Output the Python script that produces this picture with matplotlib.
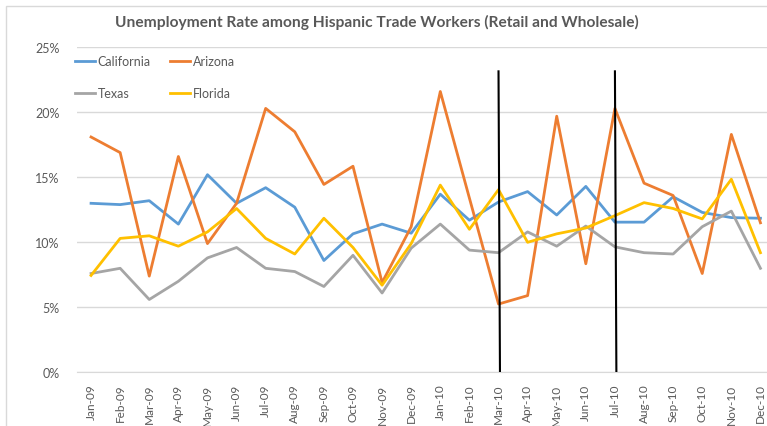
import numpy as np
import matplotlib
matplotlib.use("Agg")
import matplotlib.pyplot as plt
from matplotlib.ticker import PercentFormatter
from matplotlib.patches import Rectangle

months = ["Jan-09", "Feb-09", "Mar-09", "Apr-09", "May-09", "Jun-09", "Jul-09", "Aug-09",
          "Sep-09", "Oct-09", "Nov-09", "Dec-09", "Jan-10", "Feb-10", "Mar-10", "Apr-10",
          "May-10", "Jun-10", "Jul-10", "Aug-10", "Sep-10", "Oct-10", "Nov-10", "Dec-10"]

california = [13.0, 12.9, 13.2, 11.4, 15.2, 13.0, 14.2, 12.7, 8.6, 10.65, 11.4, 10.7,
              13.7, 11.7, 13.1, 13.9, 12.1, 14.3, 11.55, 11.55, 13.5, 12.3, 11.9, 11.85]
arizona = [18.1, 16.9, 7.4, 16.6, 9.9, 13.0, 20.3, 18.5, 14.45, 15.85, 6.9, 11.2,
           21.6, 13.4, 5.25, 5.9, 19.7, 8.35, 20.3, 14.55, 13.6, 7.6, 18.3, 11.5]
texas = [7.6, 8.0, 5.6, 7.0, 8.8, 9.6, 8.0, 7.75, 6.6, 9.0, 6.1, 9.55,
         11.4, 9.4, 9.2, 10.8, 9.7, 11.25, 9.65, 9.2, 9.1, 11.2, 12.4, 8.0]
florida = [7.45, 10.3, 10.5, 9.7, 10.8, 12.6, 10.3, 9.1, 11.85, 9.6, 6.7, 9.9,
           14.4, 11.0, 14.05, 10.0, 10.65, 11.1, 12.05, 13.05, 12.6, 11.8, 14.85, 9.2]

# marker lines drawn over the chart
marks = ["Mar-10", "Jul-10"]
mark_top = 23.15

plt.rcParams['font.family'] = ['Lato', 'DejaVu Sans']
grey = "#595959"

fig = plt.figure(figsize=(7.67, 4.27), dpi=100)
ax = fig.add_axes([76.5 / 767, (427 - 373.3) / 427, (775 - 76.5) / 767, 325 / 427])

x = np.arange(len(months))
l_ca, = ax.plot(x, california, color="#5B9BD5", lw=2, label="California")
l_az, = ax.plot(x, arizona, color="#ED7D31", lw=2, label="Arizona")
l_tx, = ax.plot(x, texas, color="#A5A5A5", lw=2, label="Texas")
l_fl, = ax.plot(x, florida, color="#FFC000", lw=2, label="Florida")

for m in marks:
    i = months.index(m)
    ax.plot([i, i + 0.05], [mark_top, 0], color="black", lw=1.5, zorder=5)

ax.set_xlim(-0.5, len(months) - 0.5)
ax.set_ylim(0, 25)
ax.set_yticks(np.arange(0, 26, 5))
ax.yaxis.set_major_formatter(PercentFormatter(decimals=0))
ax.set_xticks(x)
ax.set_xticklabels(months, rotation=90)
ax.tick_params(axis="both", length=0, colors=grey, labelsize=8.5)
ax.tick_params(axis="y", pad=12, labelsize=9)
ax.tick_params(axis="x", pad=8)
ax.grid(axis="y", color="#D9D9D9", lw=1)
ax.set_axisbelow(True)
for s in ["top", "right", "left"]:
    ax.spines[s].set_visible(False)
ax.spines["bottom"].set_color("#D9D9D9")

# column-wise fill: California/Texas then Arizona/Florida
leg = ax.legend([l_ca, l_tx, l_az, l_fl], ["California", "Texas", "Arizona", "Florida"],
                ncol=2, loc="upper left", bbox_to_anchor=(64 / 767, 1 - 45 / 427),
                bbox_transform=fig.transFigure, frameon=False, fontsize=9,
                handlelength=1.6, handletextpad=0.2, columnspacing=1.55,
                labelspacing=1.6)
for t in leg.get_texts():
    t.set_color(grey)

fig.text(377 / 767, 1 - 22 / 427, "Unemployment Rate among Hispanic Trade Workers (Retail and Wholesale)",
         ha="center", va="center", fontsize=11.2, fontweight="bold", color=grey)

fig.patches.append(Rectangle((6 / 767, -0.1), 1.2, 1 - 7 / 427 + 0.1, transform=fig.transFigure,
                             fill=False, edgecolor="#D9D9D9", lw=1))

fig.savefig("out.png", dpi=100)
